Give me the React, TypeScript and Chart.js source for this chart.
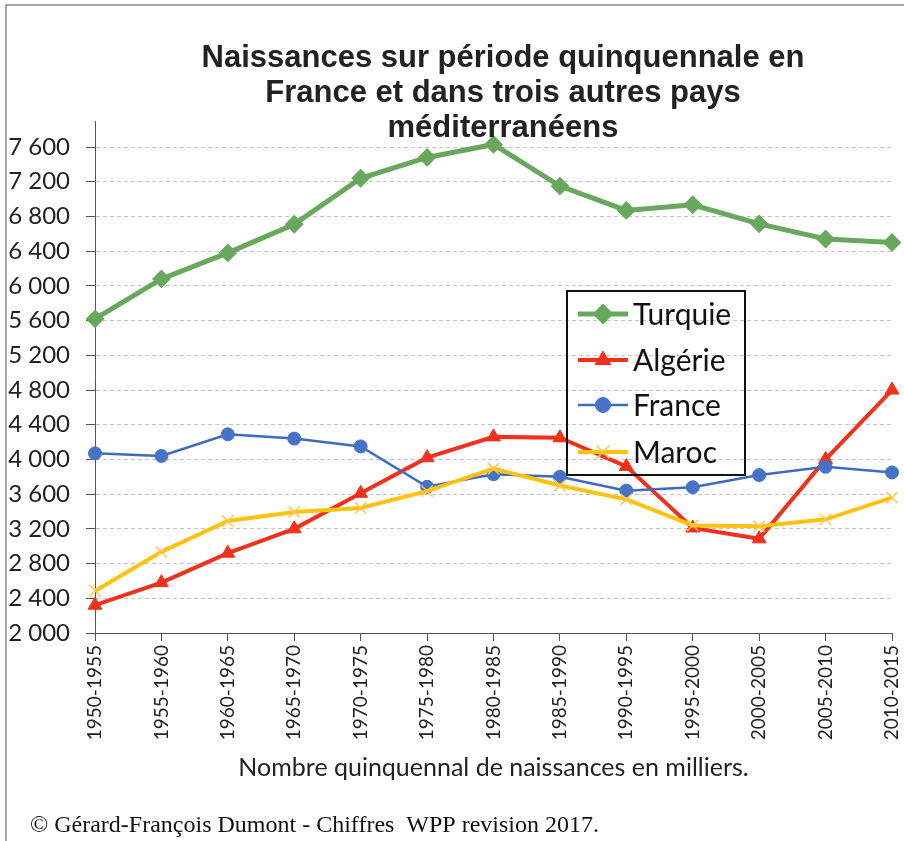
import React, { useEffect, useRef } from "react";
import { Chart, registerables } from "chart.js";

Chart.register(...registerables);

const categories = [
  "1950-1955", "1955-1960", "1960-1965", "1965-1970", "1970-1975", "1975-1980", "1980-1985",
  "1985-1990", "1990-1995", "1995-2000", "2000-2005", "2005-2010", "2010-2015",
];
const turquie = [5620, 6080, 6380, 6710, 7240, 7480, 7630, 7150, 6870, 6935, 6715, 6540, 6500];
const algerie = [2320, 2580, 2920, 3200, 3610, 4020, 4260, 4250, 3920, 3210, 3085, 4000, 4800];
const france = [4070, 4040, 4290, 4240, 4150, 3685, 3830, 3800, 3640, 3680, 3820, 3915, 3850];
const maroc = [2485, 2935, 3290, 3395, 3440, 3635, 3895, 3700, 3540, 3240, 3230, 3310, 3560];
const yTickValues = [2000, 2400, 2800, 3200, 3600, 4000, 4400, 4800, 5200, 5600, 6000, 6400, 6800, 7200, 7600];
const seriesNames = ["Turquie", "Algérie", "France", "Maroc"];
const titleLines = [
  "Naissances sur période quinquennale en",
  "France et dans trois autres pays",
  "méditerranéens",
];
const xTitle = "Nombre quinquennal de naissances en milliers.";
const footer = "© Gérard-François Dumont - Chiffres  WPP revision 2017.";

const GREEN = "#68A85C";
const RED = "#F3301C";
const BLUE = "#4069C0";
const YELLOW = "#FFC20E";

function fmt(v: number) {
  return String(v).replace(/\B(?=(\d{3})+(?!\d))/g, " ");
}

function drawMarker(ctx: CanvasRenderingContext2D, style: string, x: number, y: number, r: number, fill: string, stroke: string, bw: number) {
  ctx.save();
  ctx.fillStyle = fill;
  ctx.strokeStyle = stroke;
  ctx.lineWidth = bw;
  ctx.setLineDash([]);
  ctx.beginPath();
  if (style === "rectRot") {
    ctx.moveTo(x, y - r);
    ctx.lineTo(x + r, y);
    ctx.lineTo(x, y + r);
    ctx.lineTo(x - r, y);
    ctx.closePath();
    ctx.fill();
    ctx.stroke();
  } else if (style === "triangle") {
    const a = -Math.PI / 2;
    for (let i = 0; i < 3; i++) {
      const ang = a + (i * 2 * Math.PI) / 3;
      const px = x + Math.cos(ang) * r;
      const py = y + Math.sin(ang) * r;
      if (i === 0) ctx.moveTo(px, py);
      else ctx.lineTo(px, py);
    }
    ctx.closePath();
    ctx.fill();
    ctx.stroke();
  } else if (style === "circle") {
    ctx.arc(x, y, r, 0, Math.PI * 2);
    ctx.fill();
    ctx.stroke();
  } else if (style === "crossRot") {
    const d = r * Math.SQRT1_2;
    ctx.moveTo(x - d, y - d);
    ctx.lineTo(x + d, y + d);
    ctx.moveTo(x + d, y - d);
    ctx.lineTo(x - d, y + d);
    ctx.stroke();
  }
  ctx.restore();
}

const decorPlugin = {
  id: "decor",
  afterDraw(chart: any) {
    const ctx: CanvasRenderingContext2D = chart.ctx;
    const ca = chart.chartArea;
    ctx.save();
    // frame
    ctx.strokeStyle = "#8a8a8a";
    ctx.lineWidth = 1.5;
    ctx.setLineDash([]);
    ctx.beginPath();
    ctx.moveTo(6, 841);
    ctx.lineTo(6, 5);
    ctx.lineTo(904, 5);
    ctx.stroke();

    // title
    ctx.fillStyle = "#222";
    ctx.textAlign = "center";
    ctx.textBaseline = "middle";
    ctx.font = 'bold 31px "Liberation Sans", Arial, sans-serif';
    titleLines.forEach((t, i) => ctx.fillText(t, 503, 58 + i * 35));

    // x axis title
    ctx.font = "25px Lato, sans-serif";
    ctx.fillStyle = "#222";
    ctx.fillText(xTitle, (ca.left + ca.right) / 2, 768);

    // footer
    ctx.textAlign = "left";
    ctx.font = '24px "Liberation Serif", "Times New Roman", serif';
    ctx.fillStyle = "#111";
    ctx.fillText(footer, 30, 826);

    // legend
    const lx = 567, ly = 291, lw = 178, lh = 184;
    ctx.strokeStyle = "#111";
    ctx.lineWidth = 2;
    ctx.strokeRect(lx, ly, lw, lh);
    const rows = [314, 360, 405, 452];
    ctx.font = "30px Lato, sans-serif";
    chart.data.datasets.forEach((ds: any, i: number) => {
      const y = rows[i];
      ctx.save();
      ctx.strokeStyle = ds.borderColor;
      ctx.lineWidth = ds.borderWidth;
      ctx.beginPath();
      ctx.moveTo(578, y);
      ctx.lineTo(628, y);
      ctx.stroke();
      ctx.restore();
      drawMarker(ctx, ds.pointStyle, 603, y, ds.pointRadius + 1, ds.pointBackgroundColor, ds.pointBorderColor, ds.pointBorderWidth);
      ctx.fillStyle = "#111";
      ctx.textAlign = "left";
      ctx.textBaseline = "middle";
      ctx.fillText(ds.label, 633, y + 1);
    });
    ctx.restore();
  },
};

export default function App() {
  const ref = useRef<HTMLCanvasElement | null>(null);
  useEffect(() => {
    if (!ref.current) return;
    const chart = new Chart(ref.current, {
      type: "line",
      data: {
        labels: categories,
        datasets: [
          {
            label: seriesNames[0], data: turquie, order: 4,
            borderColor: GREEN, backgroundColor: GREEN, borderWidth: 5,
            pointStyle: "rectRot", pointRadius: 8, pointBorderWidth: 2,
            pointBackgroundColor: GREEN, pointBorderColor: GREEN,
          },
          {
            label: seriesNames[1], data: algerie, order: 3,
            borderColor: RED, backgroundColor: RED, borderWidth: 4,
            pointStyle: "triangle", pointRadius: 8, pointBorderWidth: 1,
            pointBackgroundColor: RED, pointBorderColor: RED,
          },
          {
            label: seriesNames[2], data: france, order: 2,
            borderColor: BLUE, backgroundColor: BLUE, borderWidth: 2.5,
            pointStyle: "circle", pointRadius: 6.5, pointBorderWidth: 1,
            pointBackgroundColor: "#4672C8", pointBorderColor: "#4672C8",
          },
          {
            label: seriesNames[3], data: maroc, order: 1,
            borderColor: YELLOW, backgroundColor: YELLOW, borderWidth: 4,
            pointStyle: "crossRot", pointRadius: 8, pointBorderWidth: 1.5,
            pointBackgroundColor: "#FFC84A", pointBorderColor: "#FFC84A",
          },
        ],
      },
      options: {
        responsive: false,
        animation: false,
        devicePixelRatio: 1,
        layout: { autoPadding: false, padding: { top: 121, left: 0, right: 12, bottom: 0 } },
        plugins: {
          legend: { display: false },
          title: { display: false },
          tooltip: { enabled: false },
        },
        elements: { line: { tension: 0 } },
        scales: {
          x: {
            type: "category",
            offset: false,
            afterFit: (s: any) => {
              s.height = 208;
              s.paddingLeft = 0;
              s.paddingRight = 0;
            },
            grid: {
              display: true, drawOnChartArea: false, drawTicks: true,
              tickLength: 8, tickColor: "#555", tickWidth: 1,
            },
            border: { display: true, color: "#555", width: 1 },
            ticks: {
              autoSkip: false, minRotation: 90, maxRotation: 90, padding: 4,
              color: "#222", font: { family: "Lato, sans-serif", size: 19 },
            },
          },
          y: {
            type: "linear",
            min: 2000,
            max: 7900,
            afterFit: (s: any) => {
              s.width = 95;
              s.paddingTop = 0;
              s.paddingBottom = 0;
            },
            afterBuildTicks: (s: any) => {
              s.ticks = yTickValues.map((v) => ({ value: v }));
            },
            grid: {
              color: "#c4c4c4", lineWidth: 1, drawTicks: true, tickLength: 9,
              tickColor: "#555", tickWidth: 1, tickBorderDash: [],
            },
            border: { display: true, color: "#555", width: 1, dash: [4, 3] },
            ticks: {
              autoSkip: false, padding: 16, color: "#222",
              font: { family: "Lato, sans-serif", size: 24 },
              callback: (v: any) => fmt(Number(v)),
            },
          },
        },
      },
      plugins: [decorPlugin],
    } as any);
    return () => chart.destroy();
  }, []);
  return (
    <div style={{ position: "absolute", left: 0, top: 0, width: 904, height: 841, background: "#fff" }}>
      <canvas ref={ref} width={904} height={841} />
    </div>
  );
}
